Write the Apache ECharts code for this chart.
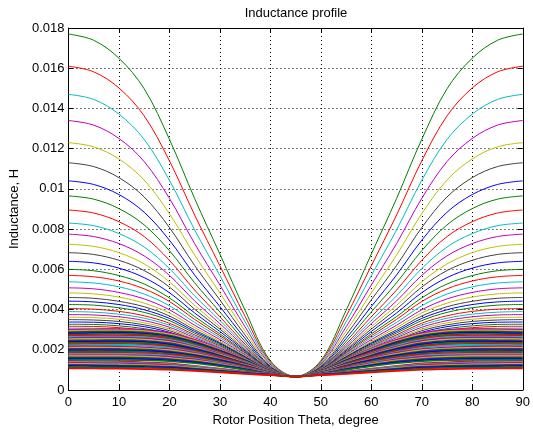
<!DOCTYPE html>
<html>
<head>
<meta charset="utf-8">
<script src="https://cdn.jsdelivr.net/npm/echarts@6/dist/echarts.min.js"></script>
<style>
html,body{margin:0;padding:0;background:#fff;}
#chart{width:533px;height:432px;}
</style>
</head>
<body>
<div id="chart"></div>
<script>
// Rotor position (degree)
const thetaDeg = [0,5,10,15,20,25,30,35,40,45,50,55,60,65,70,75,80,85,90];
const xTickLabels = ['0','10','20','30','40','50','60','70','80','90'];
const yTickLabels = ['0','0.002','0.004','0.006','0.008','0.01','0.012','0.014','0.016','0.018'];

// Inductance values in mH, one row per curve
const upperCurves_mH = [
[17.70,17.39,16.50,14.98,12.47,9.52,6.76,3.96,1.46,0.67,1.46,3.96,6.76,9.52,12.47,14.98,16.50,17.39,17.70],
[16.10,15.82,15.02,13.63,11.40,8.70,6.18,3.66,1.40,0.67,1.40,3.66,6.18,8.70,11.40,13.63,15.02,15.82,16.10],
[14.70,14.45,13.72,12.46,10.43,7.96,5.69,3.39,1.34,0.67,1.34,3.39,5.69,7.96,10.43,12.46,13.72,14.45,14.70],
[13.40,13.17,12.51,11.36,9.53,7.28,5.22,3.14,1.28,0.67,1.28,3.14,5.22,7.28,9.53,11.36,12.51,13.17,13.40],
[12.30,12.09,11.49,10.44,8.77,6.71,4.83,2.93,1.23,0.67,1.23,2.93,4.83,6.71,8.77,10.44,11.49,12.09,12.30],
[11.30,11.11,10.56,9.60,8.08,6.19,4.48,2.73,1.18,0.67,1.18,2.73,4.48,6.19,8.08,9.60,10.56,11.11,11.30],
[10.40,10.22,9.72,8.84,7.45,5.72,4.15,2.56,1.14,0.67,1.14,2.56,4.15,5.72,7.45,8.84,9.72,10.22,10.40],
[9.65,9.49,9.02,8.21,6.93,5.33,3.88,2.41,1.10,0.67,1.10,2.41,3.88,5.33,6.93,8.21,9.02,9.49,9.65],
[8.95,8.80,8.37,7.63,6.45,4.97,3.64,2.28,1.07,0.67,1.07,2.28,3.64,4.97,6.45,7.63,8.37,8.80,8.95],
[8.30,8.17,7.78,7.11,6.04,4.68,3.46,2.20,1.05,0.67,1.05,2.20,3.46,4.68,6.04,7.11,7.78,8.17,8.30],
[7.75,7.63,7.28,6.67,5.70,4.43,3.30,2.12,1.04,0.67,1.04,2.12,3.30,4.43,5.70,6.67,7.28,7.63,7.75],
[7.25,7.14,6.83,6.27,5.38,4.21,3.15,2.06,1.03,0.67,1.03,2.06,3.15,4.21,5.38,6.27,6.83,7.14,7.25],
[6.83,6.74,6.45,5.94,5.12,4.02,3.03,2.00,1.02,0.67,1.02,2.00,3.03,4.02,5.12,5.94,6.45,6.74,6.83],
[6.40,6.32,6.06,5.59,4.84,3.83,2.91,1.94,1.01,0.67,1.01,1.94,2.91,3.83,4.84,5.59,6.06,6.32,6.40],
[6.00,5.93,5.69,5.27,4.58,3.65,2.79,1.88,1.00,0.67,1.00,1.88,2.79,3.65,4.58,5.27,5.69,5.93,6.00],
[5.70,5.63,5.42,5.03,4.40,3.51,2.70,1.84,0.99,0.67,0.99,1.84,2.70,3.51,4.40,5.03,5.42,5.63,5.70]
];
const middleCurves_mH = [
[5.38,5.32,5.13,4.77,4.19,3.36,2.61,1.79,0.99,0.67,0.99,1.79,2.61,3.36,4.19,4.77,5.13,5.32,5.38],
[5.08,5.03,4.85,4.53,3.99,3.22,2.51,1.74,0.98,0.67,0.98,1.74,2.51,3.22,3.99,4.53,4.85,5.03,5.08],
[4.83,4.78,4.62,4.32,3.83,3.10,2.43,1.70,0.97,0.67,0.97,1.70,2.43,3.10,3.83,4.32,4.62,4.78,4.83],
[4.60,4.56,4.41,4.14,3.68,2.99,2.36,1.66,0.96,0.67,0.96,1.66,2.36,2.99,3.68,4.14,4.41,4.56,4.60],
[4.42,4.38,4.25,3.99,3.56,2.91,2.31,1.64,0.96,0.67,0.96,1.64,2.31,2.91,3.56,3.99,4.25,4.38,4.42],
[4.25,4.22,4.09,3.86,3.45,2.83,2.25,1.61,0.95,0.67,0.95,1.61,2.25,2.83,3.45,3.86,4.09,4.22,4.25],
[4.05,4.02,3.91,3.69,3.32,2.74,2.19,1.58,0.94,0.67,0.94,1.58,2.19,2.74,3.32,3.69,3.91,4.02,4.05],
[3.90,3.87,3.77,3.57,3.22,2.67,2.14,1.55,0.94,0.67,0.94,1.55,2.14,2.67,3.22,3.57,3.77,3.87,3.90],
[3.75,3.73,3.64,3.45,3.12,2.60,2.09,1.53,0.93,0.67,0.93,1.53,2.09,2.60,3.12,3.45,3.64,3.73,3.75],
[3.62,3.60,3.52,3.34,3.03,2.54,2.05,1.51,0.93,0.67,0.93,1.51,2.05,2.54,3.03,3.34,3.52,3.60,3.62],
[3.50,3.48,3.41,3.24,2.95,2.48,2.01,1.49,0.93,0.67,0.93,1.49,2.01,2.48,2.95,3.24,3.41,3.48,3.50],
[3.38,3.37,3.30,3.15,2.87,2.43,1.97,1.47,0.92,0.67,0.92,1.47,1.97,2.43,2.87,3.15,3.30,3.37,3.38],
[3.27,3.26,3.19,3.05,2.80,2.37,1.94,1.45,0.92,0.67,0.92,1.45,1.94,2.37,2.80,3.05,3.19,3.26,3.27],
[3.17,3.16,3.10,2.97,2.73,2.33,1.90,1.43,0.91,0.67,0.91,1.43,1.90,2.33,2.73,2.97,3.10,3.16,3.17],
[3.08,3.07,3.02,2.90,2.67,2.28,1.88,1.42,0.91,0.67,0.91,1.42,1.88,2.28,2.67,2.90,3.02,3.07,3.08]
];
const bandCurves_mH = [
[3.00,3.02,3.03,2.99,2.83,2.49,2.04,1.53,0.97,0.67,0.97,1.53,2.04,2.49,2.83,2.99,3.03,3.02,3.00],
[2.94,2.96,2.97,2.93,2.77,2.44,2.01,1.51,0.97,0.67,0.97,1.51,2.01,2.44,2.77,2.93,2.97,2.96,2.94],
[2.88,2.90,2.91,2.87,2.71,2.39,1.97,1.49,0.96,0.67,0.96,1.49,1.97,2.39,2.71,2.87,2.91,2.90,2.88],
[2.82,2.84,2.85,2.81,2.66,2.35,1.94,1.47,0.95,0.67,0.95,1.47,1.94,2.35,2.66,2.81,2.85,2.84,2.82],
[2.76,2.78,2.79,2.75,2.60,2.30,1.90,1.44,0.94,0.67,0.94,1.44,1.90,2.30,2.60,2.75,2.79,2.78,2.76],
[2.70,2.72,2.72,2.69,2.55,2.25,1.87,1.42,0.93,0.67,0.93,1.42,1.87,2.25,2.55,2.69,2.72,2.72,2.70],
[2.64,2.66,2.66,2.63,2.49,2.21,1.83,1.40,0.93,0.67,0.93,1.40,1.83,2.21,2.49,2.63,2.66,2.66,2.64],
[2.58,2.60,2.60,2.57,2.44,2.16,1.80,1.38,0.92,0.67,0.92,1.38,1.80,2.16,2.44,2.57,2.60,2.60,2.58],
[2.52,2.54,2.54,2.51,2.38,2.11,1.76,1.35,0.91,0.67,0.91,1.35,1.76,2.11,2.38,2.51,2.54,2.54,2.52],
[2.46,2.47,2.48,2.45,2.33,2.07,1.73,1.33,0.90,0.67,0.90,1.33,1.73,2.07,2.33,2.45,2.48,2.47,2.46],
[2.40,2.41,2.42,2.39,2.27,2.02,1.69,1.31,0.89,0.67,0.89,1.31,1.69,2.02,2.27,2.39,2.42,2.41,2.40],
[2.34,2.35,2.36,2.33,2.21,1.97,1.66,1.29,0.89,0.67,0.89,1.29,1.66,1.97,2.21,2.33,2.36,2.35,2.34],
[2.28,2.29,2.30,2.27,2.16,1.93,1.62,1.27,0.88,0.67,0.88,1.27,1.62,1.93,2.16,2.27,2.30,2.29,2.28],
[2.22,2.23,2.24,2.21,2.10,1.88,1.58,1.24,0.87,0.67,0.87,1.24,1.58,1.88,2.10,2.21,2.24,2.23,2.22],
[2.16,2.17,2.16,2.12,2.03,1.85,1.58,1.27,0.89,0.67,0.89,1.27,1.58,1.85,2.03,2.12,2.16,2.17,2.16],
[2.10,2.11,2.10,2.06,1.98,1.80,1.54,1.24,0.89,0.67,0.89,1.24,1.54,1.80,1.98,2.06,2.10,2.11,2.10],
[2.04,2.05,2.04,2.01,1.92,1.75,1.51,1.22,0.88,0.67,0.88,1.22,1.51,1.75,1.92,2.01,2.04,2.05,2.04],
[1.98,1.99,1.98,1.95,1.87,1.71,1.47,1.19,0.87,0.67,0.87,1.19,1.47,1.71,1.87,1.95,1.98,1.99,1.98],
[1.92,1.93,1.92,1.89,1.81,1.66,1.43,1.17,0.86,0.67,0.86,1.17,1.43,1.66,1.81,1.89,1.92,1.93,1.92],
[1.86,1.87,1.86,1.83,1.76,1.61,1.40,1.15,0.85,0.67,0.85,1.15,1.40,1.61,1.76,1.83,1.86,1.87,1.86],
[1.80,1.80,1.80,1.77,1.70,1.56,1.36,1.12,0.84,0.67,0.84,1.12,1.36,1.56,1.70,1.77,1.80,1.80,1.80],
[1.74,1.74,1.74,1.71,1.65,1.52,1.32,1.10,0.83,0.67,0.83,1.10,1.32,1.52,1.65,1.71,1.74,1.74,1.74],
[1.68,1.68,1.68,1.66,1.59,1.47,1.29,1.07,0.82,0.67,0.82,1.07,1.29,1.47,1.59,1.66,1.68,1.68,1.68],
[1.62,1.62,1.62,1.60,1.54,1.42,1.25,1.05,0.81,0.67,0.81,1.05,1.25,1.42,1.54,1.60,1.62,1.62,1.62],
[1.56,1.56,1.56,1.54,1.48,1.37,1.21,1.03,0.80,0.67,0.80,1.03,1.21,1.37,1.48,1.54,1.56,1.56,1.56],
[1.50,1.50,1.50,1.48,1.43,1.33,1.18,1.00,0.80,0.67,0.80,1.00,1.18,1.33,1.43,1.48,1.50,1.50,1.50]
];
const bottomCurves_mH = [
[1.45,1.43,1.42,1.38,1.33,1.20,1.06,0.92,0.80,0.67,0.80,0.92,1.06,1.20,1.33,1.38,1.42,1.43,1.45],
[1.40,1.39,1.37,1.33,1.28,1.17,1.04,0.90,0.79,0.67,0.79,0.90,1.04,1.17,1.28,1.33,1.37,1.39,1.40],
[1.35,1.34,1.32,1.29,1.24,1.13,1.01,0.89,0.78,0.67,0.78,0.89,1.01,1.13,1.24,1.29,1.32,1.34,1.35],
[1.30,1.29,1.27,1.24,1.20,1.10,0.99,0.87,0.77,0.67,0.77,0.87,0.99,1.10,1.20,1.24,1.27,1.29,1.30],
[1.25,1.24,1.22,1.20,1.16,1.06,0.96,0.86,0.76,0.67,0.76,0.86,0.96,1.06,1.16,1.20,1.22,1.24,1.25],
[1.20,1.19,1.18,1.15,1.12,1.03,0.94,0.84,0.76,0.67,0.76,0.84,0.94,1.03,1.12,1.15,1.18,1.19,1.20],
[1.14,1.13,1.12,1.10,1.07,0.99,0.91,0.82,0.75,0.67,0.75,0.82,0.91,0.99,1.07,1.10,1.12,1.13,1.14],
[1.08,1.07,1.06,1.04,1.01,0.95,0.88,0.80,0.74,0.67,0.74,0.80,0.88,0.95,1.01,1.04,1.06,1.07,1.08]
];

// MATLAB classic color order
const colorOrder = ['#0000ff','#008000','#ff0000','#00bfbf','#bf00bf','#bfbf00','#404040'];

const FONT = '"Liberation Sans", Arial, Helvetica, sans-serif';
const nUpper = upperCurves_mH.length + middleCurves_mH.length;
const allCurves = [].concat(upperCurves_mH, middleCurves_mH, bandCurves_mH, bottomCurves_mH);

const series = allCurves.map((curve, k) => ({
  type: 'line',
  xAxisIndex: 0,
  yAxisIndex: 0,
  data: thetaDeg.map((t, i) => [t, curve[i] / 1000]),
  symbol: 'none',
  showSymbol: false,
  smooth: 0.35,
  silent: true,
  animation: false,
  lineStyle: { width: k < nUpper ? 1 : 1.7, color: colorOrder[(k + 1) % 7] },
  itemStyle: { color: colorOrder[(k + 1) % 7] },
  z: 2
}));

const axisCommonX = { type: 'value', min: 0, max: 90, interval: 10 };
const axisCommonY = { type: 'value', min: 0, max: 0.018, interval: 0.002 };

const chart = echarts.init(document.getElementById('chart'), null, { renderer: 'canvas' });
chart.setOption({
  animation: false,
  backgroundColor: '#fff',
  grid: { left: 66, right: 6, top: 28, bottom: 42, containLabel: false },
  graphic: [{
    type: 'text',
    x: 296, y: 13,
    style: {
      text: 'Inductance profile',
      fill: '#000',
      fontSize: 13,
      fontFamily: FONT,
      align: 'center',
      verticalAlign: 'middle'
    }
  }],
  xAxis: [
    Object.assign({}, axisCommonX, {
      position: 'bottom',
      axisLine: { show: true, onZero: false, lineStyle: { color: '#000', width: 1 } },
      axisTick: { show: true, inside: true, length: 5, lineStyle: { color: '#000' } },
      axisLabel: { color: '#000', fontSize: 13, fontFamily: FONT, margin: 6,
        formatter: v => xTickLabels[Math.round(v / 10)] },
      splitLine: { show: true, lineStyle: { color: '#000', width: 1, type: [1, 3] } },
      name: 'Rotor Position Theta, degree',
      nameLocation: 'middle',
      nameGap: 24,
      nameTextStyle: { color: '#000', fontSize: 13, fontFamily: FONT }
    }),
    Object.assign({}, axisCommonX, {
      position: 'top',
      axisLine: { show: true, onZero: false, lineStyle: { color: '#000', width: 1 } },
      axisTick: { show: true, inside: true, length: 5, lineStyle: { color: '#000' } },
      axisLabel: { show: false },
      splitLine: { show: false }
    })
  ],
  yAxis: [
    Object.assign({}, axisCommonY, {
      position: 'left',
      axisLine: { show: true, onZero: false, lineStyle: { color: '#000', width: 1 } },
      axisTick: { show: true, inside: true, length: 5, lineStyle: { color: '#000' } },
      axisLabel: { color: '#000', fontSize: 13, fontFamily: FONT, margin: 4,
        formatter: v => yTickLabels[Math.round(v / 0.002)] },
      splitLine: { show: true, lineStyle: { color: '#000', width: 1, type: [1, 3] } },
      name: 'Inductance, H',
      nameLocation: 'middle',
      nameGap: 46,
      nameTextStyle: { color: '#000', fontSize: 13, fontFamily: FONT }
    }),
    Object.assign({}, axisCommonY, {
      position: 'right',
      axisLine: { show: true, onZero: false, lineStyle: { color: '#000', width: 1 } },
      axisTick: { show: true, inside: true, length: 5, lineStyle: { color: '#000' } },
      axisLabel: { show: false },
      splitLine: { show: false }
    })
  ],
  series: series
});
</script>
</body>
</html>
